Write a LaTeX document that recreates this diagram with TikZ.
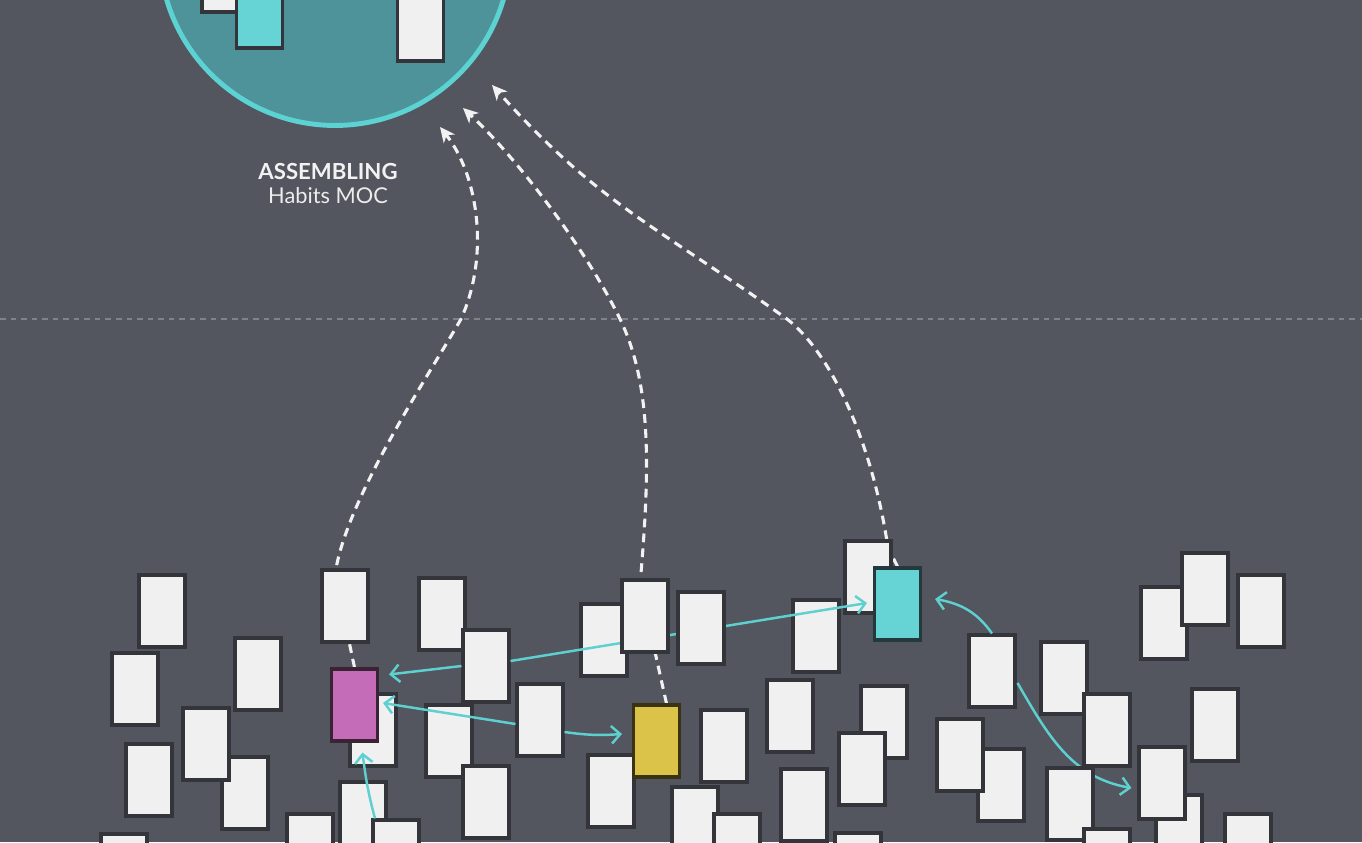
\documentclass[tikz,border=0pt]{standalone}
\usepackage{fontspec}
\setmainfont{Lato}
\usepackage{tikz}
\usetikzlibrary{arrows.meta,calc,positioning}
\usepackage{xcolor}
\definecolor{bgcol}{HTML}{53565E}
\definecolor{cardfill}{HTML}{F0F0F0}
\definecolor{cardline}{HTML}{34353A}
\definecolor{magfill}{HTML}{C46CB8}
\definecolor{magline}{HTML}{3B2336}
\definecolor{cynfill}{HTML}{66D4D4}
\definecolor{cynline}{HTML}{23393D}
\definecolor{yelfill}{HTML}{DBC349}
\definecolor{yelline}{HTML}{3A3212}
\definecolor{mocfill}{HTML}{4E9399}
\definecolor{mocline}{HTML}{5CD2D2}
\definecolor{linkcol}{HTML}{5FD0D0}
\definecolor{sepcol}{HTML}{80838A}
\definecolor{recallcol}{HTML}{F2F2F2}
\pgfdeclarelayer{back}
\pgfdeclarelayer{front}
\pgfsetlayers{back,main,front}

\begin{document}
\begin{tikzpicture}[
    x=0.02cm, y=-0.02cm,
    card/.style={draw=cardline, fill=cardfill, rectangle, line width=1.75pt,
        minimum width=0.92cm, minimum height=1.44cm, inner sep=0pt},
    magcard/.style={card, fill=magfill, draw=magline},
    cyncard/.style={card, fill=cynfill, draw=cynline},
    yelcard/.style={card, fill=yelfill, draw=yelline},
    moc/.style={draw=mocline, fill=mocfill, circle, line width=2.8pt,
        minimum size=7.02cm, inner sep=0pt},
    moctitle/.style={text=recallcol, font=\fontsize{12.6}{15}\selectfont\bfseries},
    mocsub/.style={text=recallcol!95!gray, font=\fontsize{12.4}{15}\selectfont},
    link/.style={draw=linkcol, line width=1.4pt,
        -{Straight Barb[length=5pt,width=10pt]}},
    recall/.style={draw=recallcol, line width=1.75pt, dash pattern=on 5pt off 3.5pt,
        -{Stealth[length=8.5pt,width=8pt,inset=2.5pt]}},
]
\useasboundingbox (0,0) rectangle (1362,842);
\clip (0,0) rectangle (1362,842);

\begin{pgfonlayer}{back}
\fill[bgcol] (0,0) rectangle (1362,842);
\draw[sepcol, line width=1.1pt, dash pattern=on 3.2pt off 2.8pt] (0,319) -- (1362,319);
\end{pgfonlayer}

% ===== MOC =====
\node[moc] (mocc) at (335,-50) {};
\node[card] (m1) at (225,-24) {};
\node[card, fill=cynfill] (m2) at (259.5,12) {};
\node[card] (m3) at (420.5,25) {};

\node[moctitle] (asmtitle) at (328,171) {ASSEMBLING};
\node[mocsub] (asmsub) at (328,196) {Habits MOC};

\coordinate (tip1) at (440,127);
\coordinate (tip2) at (463,108);
\coordinate (tip3) at (492,85);

% ===== NOTES, left =====
\node[card] (c1) at (162,611) {};
\node[card] (c2) at (135,689) {};
\node[card] (c3) at (258,674) {};
\node[card] (c4) at (245,793) {};
\node[card] (c5) at (206,744) {};
\node[card] (c6) at (149,780) {};
\node[card] (c7) at (124,870) {};
\node[card] (c8) at (345,606) {};
\node[card] (c9) at (373,730) {};
\node[magcard] (mag) at (354.5,705) {};
\node[card] (c10) at (363,818) {};
\node[card] (c11) at (396,856) {};
\node[card] (c12) at (310,850) {};
\node[card] (c13) at (442,614) {};
\node[card] (c14) at (486,666) {};
\node[card] (c15) at (449,741) {};
\node[card] (c16) at (486,802) {};
\node[card] (c17) at (540,720) {};

% ===== NOTES, middle =====
\node[card] (c18) at (604,640) {};
\node[card] (c19) at (816,636) {};
\node[card] (c20) at (868,577) {};
\node[cyncard] (cyn) at (897.5,604) {};
\node[card] (c21) at (611,791) {};
\node[yelcard] (yel) at (656.5,741) {};
\node[card] (c22) at (724,746) {};
\node[card] (c23) at (790,716) {};
\node[card] (c24) at (884,722) {};
\node[card] (c25) at (862,769) {};
\node[card] (c26) at (804,805) {};
\node[card] (c27) at (695,823) {};
\node[card] (c28) at (737,850) {};
\node[card] (c29) at (858,869) {};

% ===== NOTES, right =====
\node[card] (c30) at (1001,785) {};
\node[card] (c31) at (960,755) {};
\node[card] (c32) at (992,671) {};
\node[card] (c33) at (1064,678) {};
\node[card] (c34) at (1107,730) {};
\node[card] (c35) at (1179,831) {};
\node[card] (c36) at (1162,783) {};
\node[card] (c37) at (1215,725) {};
\node[card] (c38) at (1248,850) {};
\node[card] (c39) at (1164,623) {};
\node[card] (c40) at (1205,589) {};
\node[card] (c41) at (1261,611) {};

\begin{pgfonlayer}{front}
\node[card] (s1) at (645,616) {};
\node[card] (s2) at (701,628) {};
\node[card] (s3) at (1070,804) {};
\node[card] (s4) at (1107,865) {};
\end{pgfonlayer}

% Links between notes
\draw[link] (c14.west) -- ($(mag.north east)+(10,7)$);
\draw[link] ($(c14.east)+(0,-5)$) -- ($(cyn.west)+(-6,-1)$);
\draw[link] ($(c17.west)+(0,4)$) -- ($(mag.east)+(4,-2)$);
\draw[link] ($(c17.east)+(0,12)$) to[bend right=6] ($(yel.west)+(-10,-7)$);
\draw[link] ($(c11.north)+(-21,0)$) to[out=105,in=-83] ($(mag.south)+(8,10)$);
\draw[link] (c32.north) to[out=125,in=-10] ($(cyn.east)+(13,-5)$);
\draw[link] ($(c32.east)+(1,12)$) to[out=-60,in=170] ($(c36.west)+(-6,5)$);

% Notes pulled up into the MOC
\begin{pgfonlayer}{back}
\draw[recall] (mag.north) -- (335,575) .. controls (345,500) and (432,370) .. (461,319)
    .. controls (490,255) and (478,175) .. (tip1);
\draw[recall] ($(yel.north)+(10,0)$) -- (640,585) .. controls (650,470) and (652,385) .. (620,319)
    .. controls (586,249) and (517,158) .. (tip2);
\draw[recall] (cyn.north) -- (888,548) .. controls (872,440) and (830,352) .. (787,319)
    .. controls (650,222) and (598,203) .. (tip3);
\end{pgfonlayer}

\end{tikzpicture}
\end{document}
